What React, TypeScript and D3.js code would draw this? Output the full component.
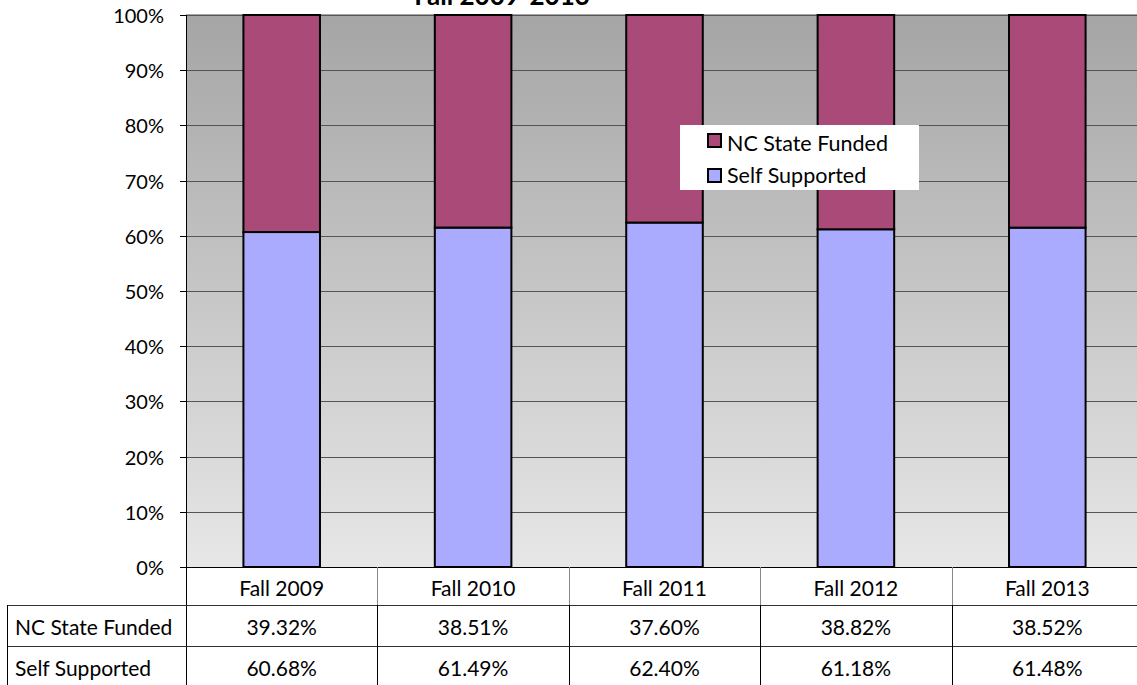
import React from "react";
import * as d3 from "d3";

const categories = ["Fall 2009", "Fall 2010", "Fall 2011", "Fall 2012", "Fall 2013"];
const stateFunded = [39.32, 38.51, 37.6, 38.82, 38.52];
const selfSupported = [60.68, 61.49, 62.4, 61.18, 61.48];
const yTicks = [0, 10, 20, 30, 40, 50, 60, 70, 80, 90, 100];
const seriesNames = ["NC State Funded", "Self Supported"];

const W = 1137, H = 685;
const left = 186, right = 1143, top = 15, bottom = 567;
const font = "Lato, 'Open Sans', sans-serif";

export default function App() {
  const x = d3.scaleBand<string>().domain(categories).range([left, right]).paddingInner(0.6).paddingOuter(0.3);
  const xCell = d3.scaleBand<string>().domain(categories).range([left, right]);
  const y = d3.scaleLinear().domain([0, 100]).range([bottom, top]);
  const purple = "#a94a78";
  const blue = "#aaaaff";
  const row1 = 605, row2 = 646, tableBottom = 690;
  return (
    <svg width={W} height={H} style={{ position: "absolute", left: 0, top: 0 }} fontFamily={font}>
      <defs>
        <linearGradient id="bg" x1="0" y1="0" x2="0" y2="1">
          <stop offset="0" stopColor="#a5a5a5" />
          <stop offset="1" stopColor="#e7e7e7" />
        </linearGradient>
      </defs>
      <rect x={0} y={0} width={W} height={H} fill="#fff" />
      <text x={502} y={5} textAnchor="middle" fontWeight="bold" fontSize={26} fill="#000">Fall 2009-2013</text>
      <rect x={left} y={top} width={right - left} height={bottom - top} fill="url(#bg)" />
      <line x1={left} x2={right} y1={top} y2={top} stroke="#888" strokeWidth={1.5} />
      {yTicks.slice(1).map((t) => (
        <line key={t} x1={left} x2={right} y1={Math.round(y(t)) + 0.5} y2={Math.round(y(t)) + 0.5} stroke="#555" strokeWidth={1} />
      ))}
      {yTicks.map((t) => (
        <g key={"l" + t}>
          <line x1={180} x2={left} y1={Math.round(y(t)) + 0.5} y2={Math.round(y(t)) + 0.5} stroke="#000" strokeWidth={1} />
          <text x={164} y={y(t) + 8} textAnchor="end" fontSize={20} fill="#000">{t}%</text>
        </g>
      ))}
      {categories.map((c, i) => (
        <g key={c}>
          <rect x={x(c)} y={y(selfSupported[i])} width={x.bandwidth()} height={y(0) - y(selfSupported[i])} fill={blue} stroke="#000" strokeWidth={2} />
          <rect x={x(c)} y={y(100)} width={x.bandwidth()} height={y(selfSupported[i]) - y(100)} fill={purple} stroke="#000" strokeWidth={2} />
        </g>
      ))}
      <line x1={left + 0.5} x2={left + 0.5} y1={top} y2={tableBottom} stroke="#000" strokeWidth={1} />
      {/* table */}
      <line x1={left} x2={W} y1={bottom + 0.5} y2={bottom + 0.5} stroke="#000" strokeWidth={1} />
      <line x1={7} x2={W} y1={row1 + 0.5} y2={row1 + 0.5} stroke="#333" strokeWidth={1} />
      <line x1={7} x2={W} y1={row2 + 0.5} y2={row2 + 0.5} stroke="#333" strokeWidth={1} />
      <line x1={7.5} x2={7.5} y1={row1} y2={tableBottom} stroke="#000" strokeWidth={1} />
      {categories.slice(1).map((c) => {
        const xv = Math.round(xCell(c) as number) + 0.5;
        return (
          <g key={"v" + c}>
            <line x1={xv} x2={xv} y1={bottom} y2={row1} stroke="#888" strokeWidth={1} />
            <line x1={xv} x2={xv} y1={row1} y2={tableBottom} stroke="#000" strokeWidth={1} />
          </g>
        );
      })}
      {categories.map((c, i) => {
        const cx = (xCell(c) as number) + xCell.bandwidth() / 2;
        return (
          <g key={"t" + c} fontSize={21} fill="#000" textAnchor="middle">
            <text x={cx} y={596}>{c}</text>
            <text x={cx} y={635}>{stateFunded[i].toFixed(2)}%</text>
            <text x={cx} y={676}>{selfSupported[i].toFixed(2)}%</text>
          </g>
        );
      })}
      <text x={15} y={635} fontSize={21} fill="#000">{seriesNames[0]}</text>
      <text x={15} y={676} fontSize={21} fill="#000">{seriesNames[1]}</text>
      {/* legend */}
      <rect x={680} y={125} width={239} height={65} fill="#fff" />
      <rect x={708} y={134} width={13} height={13} fill={purple} stroke="#000" strokeWidth={2} />
      <text x={727} y={151} fontSize={21.5} fill="#000">{seriesNames[0]}</text>
      <rect x={708} y={169} width={13} height={13} fill={blue} stroke="#000" strokeWidth={2} />
      <text x={727} y={183} fontSize={21.5} fill="#000">{seriesNames[1]}</text>
    </svg>
  );
}
